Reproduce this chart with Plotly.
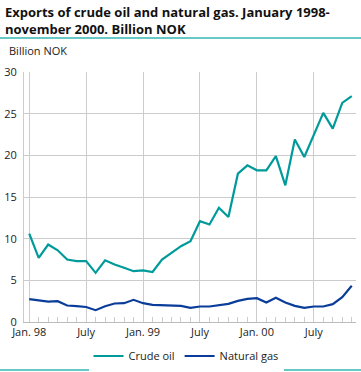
import plotly.graph_objects as go

months = list(range(35))  # Jan 1998 .. Nov 2000
tick_positions = [0, 6, 12, 18, 24, 30]
tick_labels = ["Jan. 98", "July", "Jan. 99", "July", "Jan. 00", "July"]

crude_oil = [10.6, 7.7, 9.3, 8.6, 7.5, 7.3, 7.3, 5.9, 7.4, 6.9, 6.5, 6.1,
             6.2, 6.0, 7.5, 8.3, 9.1, 9.7, 12.1, 11.7, 13.7, 12.6, 17.8, 18.8,
             18.2, 18.2, 19.9, 16.4, 21.9, 19.8, 22.4, 25.1, 23.2, 26.3, 27.1]
natural_gas = [2.75, 2.58, 2.45, 2.5, 1.98, 1.9, 1.8, 1.42, 1.9, 2.22, 2.26, 2.66,
               2.26, 2.06, 2.02, 1.96, 1.94, 1.7, 1.86, 1.86, 1.98, 2.18, 2.54, 2.78,
               2.86, 2.34, 2.9, 2.34, 1.94, 1.7, 1.86, 1.86, 2.14, 2.98, 4.35]

W, H = 361, 372
L, R, T, B = 24, 5, 72, 50
pw, ph = W - L - R, H - T - B

def px(X):
    return (X - L) / pw

def py(Y):
    return (H - B - Y) / ph

fig = go.Figure()
fig.add_trace(go.Scatter(x=months, y=crude_oil, mode="lines", name="Crude oil",
                         line=dict(color="#009a9a", width=2.2), cliponaxis=False))
fig.add_trace(go.Scatter(x=months, y=natural_gas, mode="lines", name="Natural gas",
                         line=dict(color="#0a3d9a", width=2.2), cliponaxis=False))

fig.update_layout(
    width=W, height=H,
    margin=dict(l=L, r=R, t=T, b=B, autoexpand=False),
    paper_bgcolor="white", plot_bgcolor="white",
    font=dict(family="Open Sans, Noto Sans, sans-serif", size=11, color="#222"),
    showlegend=True,
    legend=dict(orientation="h", x=px(186), xanchor="center", y=py(356), yanchor="middle",
                font=dict(size=11, color="#222"), itemwidth=30, tracegroupgap=0),
    xaxis=dict(range=[-0.55, 34.45], tickvals=tick_positions, ticktext=tick_labels,
               showgrid=True, gridcolor="#cccccc", gridwidth=1, ticks="",
               showline=True, linecolor="#bbbbbb", linewidth=1, zeroline=False,
               tickfont=dict(size=11, color="#222"), automargin=False,
               minor=dict(tickvals=months, ticks="inside", ticklen=5,
                          tickcolor="#cccccc", tickwidth=1, showgrid=False),
               fixedrange=True),
    yaxis=dict(range=[0, 30], dtick=5, showgrid=True, gridcolor="#cccccc", gridwidth=1,
               showline=True, linecolor="#cccccc", linewidth=1, zeroline=False,
               ticks="", tickfont=dict(size=11, color="#222"), ticklabelstandoff=4,
               automargin=False, fixedrange=True),
)

fig.add_annotation(text="<b>Exports of crude oil and natural gas. January 1998-<br>november 2000. Billion NOK</b>",
                   xref="paper", yref="paper", x=px(3), y=py(1), xanchor="left", yanchor="top",
                   align="left", showarrow=False,
                   font=dict(size=13, color="#111", family="Open Sans, sans-serif"))
fig.add_annotation(text="Billion NOK", xref="paper", yref="paper", x=px(7), y=py(51),
                   xanchor="left", yanchor="middle", showarrow=False,
                   font=dict(size=11, color="#222"))

for Y in (38, 370):
    fig.add_shape(type="line", xref="paper", yref="paper", x0=px(0), x1=px(W), y0=py(Y), y1=py(Y),
                  line=dict(color="#66c9c6", width=2))

fig.write_html("out.html", config={"displayModeBar": False},
               post_script="document.body.style.margin='0';document.body.style.overflow='hidden';")
